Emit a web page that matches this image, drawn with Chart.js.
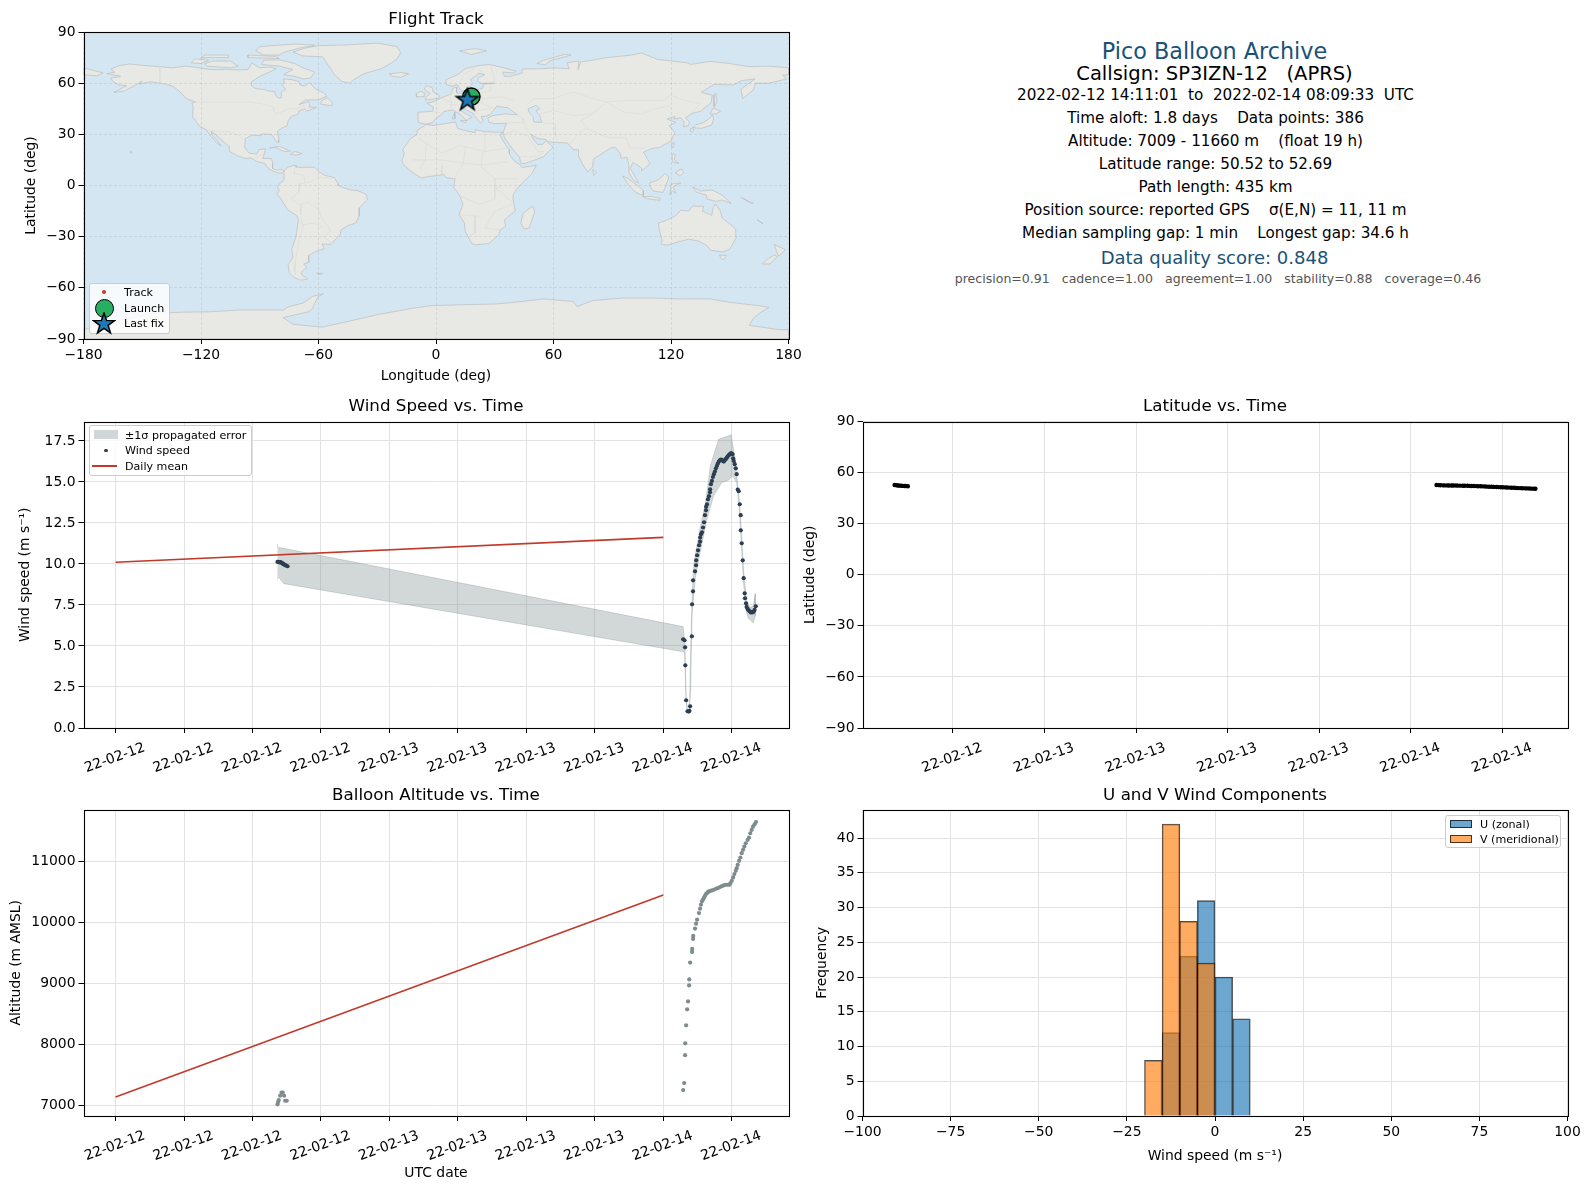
<!DOCTYPE html>
<html>
<head>
<meta charset="utf-8">
<title>Pico Balloon Archive</title>
<script src="https://cdn.jsdelivr.net/npm/chart.js@4/dist/chart.umd.js"></script>
<style>
  html, body { margin: 0; background: #fff; }
  body { position: relative; width: 1590px; height: 1189px; overflow: hidden; font-family: "DejaVu Sans", sans-serif; color: #000; }
  canvas { position: absolute; }
  .info { position: absolute; left: 1215.5px; transform: translate(-50%, -50%); white-space: pre; font-size: 15.2px; }
  .legend { position: absolute; background: rgba(255, 255, 255, 0.8); border: 1px solid #ccc; border-radius: 3px; box-sizing: border-box; font-size: 11.1px; z-index: 5; }
  .legend span, .legend i, .legend svg { position: absolute; display: block; }
  .legend span { white-space: pre; transform: translateY(-50%); }
</style>
</head>
<body>
<div class="info" style="top:50.8px;left:1214.5px;font-size:22.3px;color:#1a5276">Pico Balloon Archive</div>
<div class="info" style="top:73.1px;left:1214.5px;font-size:19.5px">Callsign: SP3IZN-12   (APRS)</div>
<div class="info" style="top:94.6px">2022-02-12 14:11:01  to  2022-02-14 08:09:33  UTC</div>
<div class="info" style="top:117.8px">Time aloft: 1.8 days    Data points: 386</div>
<div class="info" style="top:141px">Altitude: 7009 - 11660 m    (float 19 h)</div>
<div class="info" style="top:163.8px">Latitude range: 50.52 to 52.69</div>
<div class="info" style="top:186.8px">Path length: 435 km</div>
<div class="info" style="top:210.1px">Position source: reported GPS    σ(E,N) = 11, 11 m</div>
<div class="info" style="top:233.4px">Median sampling gap: 1 min    Longest gap: 34.6 h</div>
<div class="info" style="top:257.4px;left:1214.5px;font-size:18px;color:#1a5276">Data quality score: 0.848</div>
<div class="info" style="top:277.8px;left:1218px;font-size:12.55px;color:#555">precision=0.91   cadence=1.00   agreement=1.00   stability=0.88   coverage=0.46</div>

<div class="legend" style="left:89px;top:283px;width:81px;height:51px">
  <i style="left:12px;top:6px;width:4px;height:4px;border-radius:50%;background:#c0392b"></i>
  <span style="left:34px;top:8px">Track</span>
  <i style="left:5px;top:15px;width:17px;height:17px;border-radius:50%;background:#27ae60;border:1.5px solid #000"></i>
  <span style="left:34px;top:23.5px">Launch</span>
  <svg style="left:2px;top:28px" width="24" height="24" viewBox="-12 -12 24 24"><polygon points="0,-11 2.6,-3.6 10.5,-3.4 4.2,1.4 6.5,8.9 0,4.4 -6.5,8.9 -4.2,1.4 -10.5,-3.4 -2.6,-3.6" fill="#1f77b4" stroke="#000" stroke-width="1.5"/></svg>
  <span style="left:34px;top:38.5px">Last fix</span>
</div>
<div class="legend" style="left:89px;top:425px;width:163px;height:51px">
  <i style="left:4px;top:4px;width:24px;height:9px;background:#d0d7d9"></i>
  <span style="left:35px;top:8.5px">±1σ propagated error</span>
  <i style="left:14px;top:22.5px;width:3.5px;height:3.5px;border-radius:50%;background:#2c3e50"></i>
  <span style="left:35px;top:24px">Wind speed</span>
  <i style="left:2px;top:39px;width:25px;height:1.5px;background:#c0392b"></i>
  <span style="left:35px;top:39.5px">Daily mean</span>
</div>
<div class="legend" style="left:1445px;top:815px;width:116px;height:33px">
  <i style="left:4px;top:4px;width:22px;height:8px;box-sizing:border-box;background:rgba(31,119,180,.65);border:1px solid rgba(0,0,0,.7)"></i>
  <span style="left:34px;top:8px">U (zonal)</span>
  <i style="left:4px;top:19px;width:22px;height:8px;box-sizing:border-box;background:rgba(255,127,14,.65);border:1px solid rgba(0,0,0,.7)"></i>
  <span style="left:34px;top:23px">V (meridional)</span>
</div>

<canvas id="mapChart" width="820" height="389" style="left:0;top:0"></canvas>
<canvas id="windChart" width="820" height="405" style="left:0;top:385px"></canvas>
<canvas id="latChart" width="790" height="405" style="left:800px;top:385px"></canvas>
<canvas id="altChart" width="820" height="411" style="left:0;top:775px"></canvas>
<canvas id="histChart" width="790" height="394" style="left:800px;top:775px"></canvas>

<script>
// hours are counted from 2022-02-12 00:00 UTC
const windHours = [14.19, 14.28, 14.36, 14.45, 14.52, 14.6, 14.68, 14.76, 14.85, 14.95, 15.07,
  49.74, 49.86, 49.91, 49.93, 50.0, 50.12, 50.23, 50.29, 50.35, 50.5, 50.52, 50.6, 50.61, 50.78, 50.87, 50.88, 50.96,
  51.04, 51.13, 51.22, 51.23, 51.3, 51.39, 51.48, 51.57, 51.65, 51.74, 51.75, 51.83, 51.91, 52.0, 52.09, 52.1, 52.17,
  52.26, 52.35, 52.43, 52.52, 52.61, 52.7, 52.78, 52.87, 52.96, 53.04, 53.13, 53.22, 53.3, 53.39, 53.48, 53.57, 53.65,
  53.74, 53.83, 53.94, 54.06, 54.12, 54.17, 54.26, 54.35, 54.43, 54.52, 54.61, 54.7, 54.78, 54.79, 54.87, 54.96, 55.04,
  55.13, 55.16, 55.25, 55.3, 55.39, 55.48, 55.57, 55.65, 55.74, 55.83, 55.91, 56.0, 56.1];
const windSpeed = [10.12, 10.13, 10.1, 10.11, 10.08, 10.05, 10.0, 9.97, 9.93, 9.9, 9.86,
  5.41, 5.35, 4.92, 3.82, 1.69, 1.02, 1.0, 1.04, 1.32, 5.59, 7.54, 8.33, 9.0, 9.55, 9.92, 10.22, 10.53,
  10.83, 11.14, 11.36, 11.61, 11.81, 11.93, 12.22, 12.54, 12.97, 13.27, 13.48, 13.64, 13.94, 14.13, 14.37, 14.55, 14.86,
  15.06, 15.3, 15.47, 15.63, 15.83, 15.98, 16.12, 16.24, 16.32, 16.36, 16.34, 16.28, 16.24, 16.32, 16.4, 16.48, 16.56,
  16.63, 16.69, 16.75, 16.69, 16.44, 16.28, 16.08, 15.83, 15.47, 14.53, 14.43, 13.64, 12.97, 12.05, 11.26, 10.22, 9.13,
  8.21, 7.91, 7.6, 7.38, 7.26, 7.17, 7.11, 7.05, 7.05, 7.05, 7.09, 7.2, 7.42];

const bandUpperHours = [14.19, 14.25, 14.75, 49.74, 49.9, 50.0, 50.12, 50.29, 50.4, 50.52, 50.67, 51.25, 51.68, 52.12,
  52.84, 53.28, 53.94, 54.23, 54.43, 54.72, 55.04, 55.3, 55.59, 55.88, 56.06];
const bandUpper = [11.2, 11.0, 10.95, 6.18, 5.1, 1.9, 1.1, 1.15, 5.0, 8.0, 9.98, 12.32, 13.64, 15.98,
  17.6, 17.7, 17.87, 16.69, 15.47, 13.43, 9.57, 7.74, 7.34, 7.44, 8.19];
const bandLowerHours = [14.19, 14.25, 14.45, 14.75, 49.74, 49.86, 50.0, 50.12, 50.29, 50.4, 50.52, 50.81, 51.25, 51.83, 52.41,
  53.13, 53.71, 54.06, 54.43, 54.67, 54.87, 55.04, 55.25, 55.45, 55.88, 56.06];
const bandLower = [9.05, 9.2, 9.05, 8.8, 4.65, 4.6, 1.5, 0.95, 0.95, 2.5, 6.9, 9.17, 10.79, 12.72, 14.15,
  14.96, 15.1, 15.37, 14.96, 13.23, 10.79, 8.76, 7.13, 6.69, 6.4, 6.83];

const meanHours = [0, 48];
const meanWind = [10.1, 11.62];
const meanAltitude = [7133, 10453];

const altHours = [14.19, 14.25, 14.3, 14.42, 14.54, 14.65, 14.77, 14.86, 15.0,
  49.74, 49.83, 49.91, 49.92, 50.0, 50.09, 50.17, 50.26, 50.27, 50.35, 50.52, 50.53, 50.61, 50.62, 50.78, 50.87, 50.96,
  51.13, 51.22, 51.3, 51.39, 51.48, 51.57, 51.65, 51.74, 51.83, 51.91, 52.0, 52.09, 52.26, 52.43, 52.61, 52.78, 52.96,
  53.13, 53.3, 53.48, 53.65, 53.8, 53.88, 54.0, 54.12, 54.23, 54.35, 54.43, 54.52, 54.64, 54.75, 54.87, 54.99, 55.1,
  55.22, 55.39, 55.51, 55.62, 55.74, 55.86, 56.0, 56.12];
const altitude = [7012, 7050, 7082, 7153, 7203, 7203, 7153, 7071, 7071,
  7246, 7361, 7820, 8016, 8311, 8574, 8705, 8967, 9066, 9344, 9519, 9568, 9732, 9781, 9902, 9983, 10049,
  10158, 10229, 10295, 10350, 10382, 10410, 10442, 10470, 10486, 10503, 10513, 10519, 10530, 10541, 10557, 10568, 10585,
  10601, 10612, 10623, 10623, 10625, 10650, 10688, 10743, 10798, 10852, 10896, 10951, 11016, 11071, 11142, 11197, 11251,
  11306, 11361, 11399, 11470, 11524, 11579, 11617, 11655];
const altTicks = [7000, 8000, 9000, 10000, 11000];

const latHours = [14.18, 14.3, 14.41, 14.5, 14.62, 14.71, 14.83, 14.92, 15.05,
  49.68, 49.8, 49.93, 50.1, 50.22, 50.38, 50.5, 50.67, 50.78, 50.95, 51.07, 51.22, 51.4, 51.52, 51.7, 51.83, 51.96,
  52.12, 52.28, 52.4, 52.57, 52.7, 52.86, 53.0, 53.13, 53.3, 53.42, 53.6, 53.73, 53.88, 54.02, 54.18, 54.31, 54.47,
  54.6, 54.76, 54.9, 55.04, 55.2, 55.33, 55.5, 55.62, 55.78, 55.91, 56.05, 56.16];
const latitude = [52.69, 52.6, 52.45, 52.38, 52.3, 52.22, 52.15, 52.1, 52.02,
  52.69, 52.66, 52.6, 52.52, 52.5, 52.48, 52.46, 52.45, 52.42, 52.4, 52.38, 52.35, 52.33, 52.3, 52.27, 52.22, 52.18,
  52.12, 52.08, 52.02, 51.98, 51.93, 51.85, 51.78, 51.72, 51.66, 51.62, 51.55, 51.5, 51.42, 51.38, 51.32, 51.27, 51.2,
  51.15, 51.08, 51.0, 50.92, 50.87, 50.8, 50.76, 50.72, 50.66, 50.62, 50.58, 50.52];

const histLabels = [-17.5, -12.5, -7.5, -2.5, 2.5, 7.5];
const uCounts = [0, 12, 23, 31, 20, 14];
const vCounts = [8, 42, 28, 22, 0, 0];

const launchFix = [18.05, 52.1];
const lastFix = [16.0, 50.4];
const trackLon = [18.05, 17.6, 17.2, 16.9, 16.5, 16.0];
const trackLat = [52.1, 52.0, 51.7, 51.3, 50.9, 50.4];

// coastlines and borders, as [lon, lat]
const northAmerica = [[-168,65.6],[-164,66.5],[-166,68.3],[-162,70.2],[-156.5,71.3],[-150,70.5],[-141,69.7],[-135,69],[-128,70],[-124,69.5],[-115,68],[-108,68],[-101,67.8],[-96,68],[-94,71.8],[-90,69],[-85,69.5],[-81.5,68.5],[-87,65.5],[-90,64],[-94,61],[-94.5,58.8],[-92.5,57],[-88,56.3],[-85,55.3],[-82.3,55.1],[-82,53],[-80.5,51.3],[-79,51.5],[-79,54.7],[-76.8,56.5],[-78.3,58.7],[-77.5,60.5],[-78,62.4],[-74,62.2],[-70,61],[-69.5,59],[-67,58.3],[-64.5,60.3],[-61.5,56.5],[-57.5,54.5],[-55.7,52.5],[-60,50.2],[-66.5,50.2],[-70,47.5],[-65,49.2],[-64.5,47.5],[-65,46],[-61,45.8],[-66,43.6],[-67,45],[-70,43.7],[-70.5,41.7],[-74,40.5],[-75.5,38],[-76,35],[-78.5,33.8],[-81,31.5],[-80.2,27],[-80.4,25.2],[-81.8,26],[-82.8,28],[-84,30],[-89,30.2],[-89.5,29.2],[-94,29.5],[-97.3,27.5],[-97.7,22.5],[-95.5,19],[-91.5,18.5],[-90.5,21],[-87,21.5],[-88,17.5],[-88.5,15.9],[-84,15.8],[-83.3,12.5],[-83.5,10],[-81,8.9],[-79.5,9.5],[-77.4,8.7],[-78,7.5],[-80.2,7.3],[-83,8.3],[-85.7,10],[-87.5,13],[-91.5,14],[-94.5,16.2],[-97,15.8],[-101.5,17.5],[-105.5,20],[-105.5,22.8],[-109.3,26.5],[-112.5,30],[-114.7,31.6],[-114.5,30],[-109.6,23.2],[-112,25],[-115.7,30],[-117.2,32.7],[-120.5,34.5],[-122.5,37.5],[-124.3,40.3],[-124,46.2],[-124.7,48.4],[-122.7,49],[-127.5,51],[-130.5,54.7],[-134,58],[-139.5,59.8],[-146,60.8],[-151.5,59.5],[-150,61.2],[-154,58.5],[-159,55.5],[-164.5,54.6],[-158,58.5],[-162,59],[-165,61],[-166,63],[-161,64]];
const greenland = [[-73,78.2],[-67,80.5],[-60,82],[-45,82.5],[-30,83.5],[-20,81.5],[-18,78],[-20,74],[-24,71],[-28,68.5],[-37,65.5],[-42,62],[-44,60],[-48,61],[-52,65],[-53.5,68],[-55,70.5],[-58,75.5],[-68,76]];
const baffin = [[-80,73.7],[-72,71.5],[-68,69],[-62,66.5],[-64,63],[-68,62.5],[-72,64],[-78,65],[-73,68],[-80,70],[-89,71],[-88,73.5]];
const victoriaIsland = [[-117,70],[-105,69],[-101,70],[-105,73],[-114,73],[-118,71.5]];
const ellesmere = [[-88,76.5],[-80,76.5],[-78,78],[-70,80.5],[-62,82.3],[-72,83],[-90,81.5],[-92,79]];
const banksIsland = [[-125,72],[-120,71.5],[-116,73.5],[-123,74.3]];
const melville = [[-120,75],[-106,75],[-106,76.5],[-118,76.5]];
const devon = [[-96,75],[-80,74.5],[-82,75.7],[-96,76.5]];
const newfoundland = [[-59,47.7],[-53,46.8],[-53,48.5],[-55.5,51.5],[-58,50]];
const cuba = [[-85,22],[-80,23],[-74.3,20.2],[-77.5,19.9],[-82,22.5]];
const hispaniola = [[-74.3,18.5],[-72,20],[-68.5,18.7],[-71.5,17.8]];
const hawaii = [[-156,20.2],[-155,19.5],[-155.8,19]];
const southAmerica = [[-77.4,8.7],[-75.5,10.8],[-72,12],[-71.5,10.8],[-68,10.7],[-62,10.7],[-60,8.3],[-57,6],[-52,4.7],[-50,1],[-50,0],[-48,-1],[-44,-2.5],[-40,-3],[-35.5,-5.3],[-35,-8.5],[-39,-13],[-39.2,-18],[-41,-22],[-45,-23.5],[-48.5,-26],[-48.8,-28.5],[-52,-32.5],[-54,-34.5],[-58.2,-34.3],[-57,-37],[-62,-39],[-65,-41],[-65,-45],[-67.5,-46],[-66,-48],[-69,-51],[-68.5,-52.5],[-65.5,-54.8],[-69,-55.5],[-72.5,-54],[-75,-51],[-75.5,-46.5],[-73,-42],[-73.7,-37.5],[-71.5,-30],[-70.2,-20],[-71,-17.8],[-76,-14],[-79,-8],[-81.3,-5],[-80,-3],[-81,-1],[-80,1],[-78.7,2],[-77.3,4],[-77.5,7],[-78,7.5]];
const falklands = [[-61,-51.5],[-58,-51.5],[-59,-52.3]];
const eurasia = [[-9,37],[-9.3,43],[-1.7,43.5],[-1.3,46],[-4.7,48.4],[-1.5,49],[2,51],[4,52],[8,53.8],[8.5,57],[10.6,57.7],[10.5,54.3],[14,54],[19,54.4],[21,56],[24,57.2],[24,59.4],[30,60],[23,60],[21.3,61],[21.5,63],[25,65],[22,65.8],[17.5,62],[18.8,60],[16.5,57],[14.3,55.5],[12.8,55.5],[11,59],[8,58.2],[5.3,59.2],[5,62],[11,65],[15,68.5],[21,70.2],[27,71],[33,69.5],[41,67],[40,66],[34,66.5],[35,64],[38,64],[44,66],[44,68.3],[54,68.5],[60,69],[68,68.5],[67,72],[73,73],[72.5,68],[74,72.5],[80,73.5],[87,75],[100,76.5],[105,77.7],[113,74],[128,72],[130,71],[140,72.8],[150,71.5],[160,69.7],[170,70],[180,69],[180,65],[177,64.7],[179,62.5],[170,60],[163,60],[162,56],[156.7,51],[155.7,56.5],[163,62.5],[156,61.5],[152,59],[142,59.3],[135.5,54.7],[141,53],[140.5,48.5],[135,43.5],[130.7,42.3],[127.5,39.8],[129.4,37],[129,35.2],[126.3,34.5],[126.6,37.7],[125,39.7],[121.5,39],[122,40.5],[118,39],[122.5,37],[119,35],[122,31],[120,26],[114,22.3],[109.5,21.5],[106,19.5],[109.3,13],[107,10.4],[105,8.7],[105,10.3],[102,12.5],[100.5,13.5],[99.3,10],[103.5,1.4],[101,3],[98.3,8],[98.5,12],[97.5,16.5],[94.5,16],[94,19],[91.5,22.5],[89,21.8],[86.5,20],[80.3,15.5],[80,11],[77.5,8],[75,12],[73,17],[72.8,21],[70,21],[69,22.5],[67,25],[62,25.2],[57,25.7],[56.3,27],[52,27.5],[48.5,30],[50,26.7],[52,24],[54.5,24.2],[56.3,26.2],[59.8,22.5],[55,17],[52,15.6],[45,12.8],[43.3,13],[42.7,16.5],[39,21.5],[35,28],[34.3,31.3],[36,36.5],[30,36.3],[27,37],[26.5,39.5],[29,41],[35,42],[41.5,41.5],[38,44.5],[37,45.5],[31,46.5],[28,42],[26,40.7],[23,40.5],[24,38],[22.8,36.5],[19.5,41],[19,42.3],[13.7,45.5],[12.5,44],[16,41.7],[18.5,40],[16.5,39],[15.8,38],[12,42],[8.8,44.3],[4,43.4],[3,41.8],[0,39.5],[-2,36.7],[-5.5,36]];
const chukotka = [[-180,69],[-175,67.5],[-170,66],[-173,64.3],[-180,65]];
const africa = [[-5.5,35.8],[-1,35.2],[10,37.3],[11,33.5],[15,32.2],[20,31],[20,32.7],[25,31.6],[32,31.2],[34.3,31.3],[32.6,29.5],[35.5,24],[37.3,21],[37.5,18.5],[39.5,15],[43,12],[44,10.6],[51.2,11.8],[49,7],[42,-1],[39.5,-5],[39.3,-8],[40.5,-15],[35,-20],[35.5,-24],[32.8,-26],[32,-29],[27,-34],[20,-34.8],[18.3,-34],[15,-27],[14.5,-22],[11.8,-17],[13.8,-11],[12,-5.5],[9,-1],[9.7,4],[5.5,4.5],[4,6.4],[-4,5.2],[-7.5,4.4],[-13,8.5],[-16.8,12.5],[-17.3,14.7],[-16.2,19],[-17,21],[-13,27.7],[-9.8,29.8],[-9.5,32.5],[-6,35]];
const madagascar = [[49.4,-12],[50.4,-15.5],[47.5,-25],[45,-25.5],[43.3,-22],[44.5,-16.2]];
const britain = [[-5.5,50],[1.3,51.2],[1.7,52.7],[-1.5,55],[-2,57.5],[-5,58.6],[-6,56.5],[-3,54],[-5,52]];
const ireland = [[-10,52],[-6,52.2],[-6,54.5],[-8,55.2],[-10,54]];
const iceland = [[-24,65.5],[-18,66.3],[-14,65.5],[-18,63.5],[-22,64]];
const svalbard = [[12,79],[20,80.3],[26,79],[18,76.8]];
const novayaZemlya = [[51.5,71.5],[55,73.5],[66,77],[69,76.5],[58,73],[56,70.8]];
const sicily = [[12.5,38],[15.5,38.2],[15,36.8]];
const sardinia = [[8.3,39],[9.5,43],[9.7,39.2]];
const sriLanka = [[80,9.5],[82,7.5],[80.5,6]];
const honshu = [[130.9,34],[135.5,33.5],[140.8,35.5],[141.8,39.5],[141,41.4],[139.8,39.5],[136.7,37],[132.7,35.5]];
const kyushu = [[130,33.5],[131.8,33],[130.8,31.2],[129.8,32]];
const hokkaido = [[140,42],[141.5,45.5],[145.3,43.5],[143,42]];
const sakhalin = [[142,46],[143.5,49.3],[142.8,54.3],[142,53],[142,49]];
const taiwan = [[121,25.2],[121.8,24.8],[120.8,22],[120.2,23.2]];
const luzon = [[120.5,18.5],[122.2,18.3],[121.7,15],[124,13],[120.8,13.8]];
const mindanao = [[122,7.5],[125.5,9.8],[126.5,7.5],[124.5,5.7]];
const sumatra = [[95.3,5.6],[98,4.2],[104,-1],[106,-3],[105.8,-5.9],[102,-4],[98.5,0]];
const java = [[105.5,-6.5],[110.5,-6.5],[114.5,-7.6],[114.3,-8.7],[108,-7.8]];
const borneo = [[109,1.5],[113,3],[117,7],[119,5],[117.7,1],[116,-4],[111,-3.3],[109.3,-0.5]];
const sulawesi = [[119.5,-5.5],[120,0.8],[125,1.5],[121,-0.9],[122.5,-4.5],[120.5,-3]];
const newGuinea = [[131,-0.8],[135,-3.3],[141,-2.6],[146,-5.5],[150.7,-10.5],[146,-8.5],[143,-9.3],[138.5,-8],[138,-5.5],[133,-4]];
const australia = [[113.5,-22],[114,-26],[115.5,-32],[115,-34.3],[118,-35],[124,-33],[129,-31.5],[134,-32.5],[138,-35],[140.5,-38],[146.5,-39],[150,-37.3],[153.2,-31],[153,-25.5],[149.5,-22],[146,-19],[145.3,-15],[142.7,-10.8],[141.5,-13],[140.8,-17.5],[136,-15],[136.7,-12.2],[131,-12],[129,-15],[125,-14.5],[122,-18],[117,-20.7]];
const tasmania = [[144.8,-40.8],[148.3,-41],[147,-43.5],[145.5,-42.8]];
const newZealandNorth = [[172.7,-34.5],[178.4,-37.7],[175,-41.5],[174,-39]];
const newZealandSouth = [[172.7,-40.6],[174.2,-41.7],[170.5,-46],[166.5,-46],[169,-43.5]];
const newCaledonia = [[164,-20],[167,-22.3],[166,-22]];
const solomons = [[156,-7],[162,-10.5],[160,-10]];
const antarctica = [[-180,-84.5],[-165,-80],[-145,-75],[-130,-74.3],[-115,-74],[-100,-73],[-90,-73],[-78,-73],[-75,-71],[-68,-69],[-63,-65],[-57.5,-63.5],[-60,-65],[-62,-69],[-63,-72],[-65,-74],[-78,-77.5],[-73,-81.4],[-58,-83],[-46,-80],[-29,-75.5],[-12,-72],[-3,-70.5],[10,-70],[30,-69.5],[40,-68.5],[55,-66.5],[70,-68],[72,-71],[80,-67.5],[95,-66],[110,-66],[125,-66.5],[140,-66.5],[150,-68.5],[165,-70.5],[170,-71.5],[165,-75],[162,-78],[160,-82],[175,-84.5],[180,-84.5],[180,-90],[-180,-90]];
const landPolygons = [northAmerica, greenland, baffin, victoriaIsland, ellesmere, banksIsland, melville, devon, newfoundland, cuba, hispaniola, hawaii,
  southAmerica, falklands, eurasia, chukotka, africa, madagascar, britain, ireland, iceland, svalbard, novayaZemlya, sicily, sardinia, sriLanka,
  honshu, kyushu, hokkaido, sakhalin, taiwan, luzon, mindanao, sumatra, java, borneo, sulawesi, newGuinea, australia, tasmania,
  newZealandNorth, newZealandSouth, newCaledonia, solomons, antarctica];
const caspian = [[47,45],[51,47],[53,45],[51,44],[53,41],[54,37],[50,37.3],[49.5,40.5],[47.5,43]];
const borderLines = [
  [[-123,49],[-95,49],[-89,48],[-83,46],[-82.5,42],[-79,43],[-75,45],[-71,45],[-67.5,47],[-67,45]],
  [[-141,69.7],[-141,60],[-135,59]],
  [[-117,32.5],[-108,31.5],[-106,31.7],[-101,29.5],[-97.3,26]],
  [[-92,14.6],[-91,17.5],[-88.5,18]],
  [[-51.5,4],[-60,5],[-64,2],[-70,1],[-70,-4],[-74,-7.5],[-70,-11],[-65,-10],[-60,-14],[-58,-20],[-55,-24],[-54,-27],[-57.5,-30],[-53.5,-33.8]],
  [[-69,-18],[-68,-24],[-70,-33],[-72,-45],[-72,-52]],
  [[-69,-11],[-69,-17]],
  [[-72,11.5],[-72.5,7],[-67.5,6],[-67,1.5]],
  [[-68,-23],[-62,-22],[-57.5,-25]],
  [[-8.7,27.5],[3,19],[12,23.5],[25,20],[25,31.5]],
  [[-12,15],[3,15],[15,13],[24,12],[36.5,14]],
  [[25,20],[37,22]],
  [[-5,25],[-5.5,15],[-8,10],[-3,5]],
  [[3,12],[3,6.5]],
  [[15,23],[14,13],[9,4]],
  [[24,20],[23,11],[30,4],[34,4],[42,4]],
  [[30,4],[30,-8],[22,-11],[12,-6]],
  [[34,-1],[30,-1],[40,-10.5]],
  [[22,-18],[12,-17]],
  [[20,-18],[20,-28],[17,-29]],
  [[33,-26],[25,-25],[30,-15],[40,-10.5]],
  [[47,48],[50,51],[60,51],[70,55],[80,51],[87,49]],
  [[87,49],[98,50],[107,50],[116,50],[120,53],[127,50],[135,48],[131,43]],
  [[87,49],[96,43],[105,42],[112,45],[120,47]],
  [[74,38],[80,42],[87,49]],
  [[74,38],[78,33],[88,28],[97,28],[99,22],[107,22]],
  [[44.5,39],[46,33],[48.5,30]],
  [[53,37],[61,36],[61,30],[62,25]],
  [[53,42],[60,44],[70,41],[80,42]],
  [[68,24],[71,28],[75,33],[78,33]],
  [[35,30],[40,32],[47,29],[52,20],[55,20],[52,17],[43,17]],
  [[36,36.7],[44,37],[44.5,39],[41.5,41.5]],
  [[-1.8,43.4],[3,42.5]],
  [[2.5,51],[8,49],[7.5,44]],
  [[8,49],[7,53.5]],
  [[14,54],[15,51],[19,49.5],[24,48],[29,45.5]],
  [[24,48],[23,54],[28,56],[28,60]],
  [[22,48],[14,47],[7,47.5]],
  [[29,45.5],[22,44],[20,42]],
  [[40,50],[33,52],[24,51]],
  [[11.5,59],[14,65],[20,69]],
  [[28,70],[30,62],[28,60]],
  [[24,66],[21,69]],
];

const FONT = '"DejaVu Sans"';
Chart.defaults.font.family = FONT;
Chart.defaults.font.size = 13.9;
Chart.defaults.color = '#000';
Chart.defaults.animation = false;

const toXY = (xs, ys) => xs.map((x, i) => ({ x, y: ys[i] }));
const closed = (pairs) => pairs.concat([pairs[0]]).map((p) => ({ x: p[0], y: p[1] }));
const dateTick = (h) => `22-02-${12 + Math.floor(h / 24)}`;
const minusTick = (v) => String(v).replace('-', '\u2212');

// spines all round plus optional axes background
const framePlugin = {
  id: 'frame',
  beforeDraw(chart, args, opts) {
    if (!opts.background) return;
    const { left, top, width, height } = chart.chartArea;
    chart.ctx.fillStyle = opts.background;
    chart.ctx.fillRect(left, top, width, height);
  },
  afterDraw(chart) {
    const { left, top, right, bottom } = chart.chartArea;
    const ctx = chart.ctx;
    ctx.save();
    ctx.strokeStyle = '#000';
    ctx.lineWidth = 1.1;
    ctx.strokeRect(Math.round(left) + 0.5, Math.round(top) + 0.5, Math.round(right - left), Math.round(bottom - top));
    ctx.restore();
  },
};

const axisBase = (extra) => ({
  type: 'linear',
  offset: false,
  border: { display: false },
  grid: { offset: false, color: '#e2e2e2', lineWidth: 1, tickColor: '#000', tickLength: 5, tickWidth: 1 },
  ...extra,
});

// rect is the canvas box, axes the wanted plot box, both in page pixels
const panelOptions = (rect, axes, title, xAxis, yAxis, xLabel, yLabel, yLabelPad) => {
  const x = axisBase({
    ...xAxis,
    afterFit(s) { s.height = rect.bottom - axes.bottom; },
  });
  const y = axisBase({
    ...yAxis,
    afterFit(s) { s.width = axes.left - rect.left; },
  });
  x.ticks = { autoSkip: false, includeBounds: false, ...xAxis.ticks };
  y.ticks = { autoSkip: false, includeBounds: false, ...yAxis.ticks };
  if (xLabel) x.title = { display: true, text: xLabel, padding: { top: 4, bottom: 4 } };
  y.title = { display: true, text: yLabel, padding: { top: yLabelPad, bottom: 0 } };
  return {
    responsive: false,
    animation: false,
    layout: { padding: { right: rect.right - axes.right } },
    scales: { x, y },
    plugins: {
      legend: { display: false },
      tooltip: { enabled: false },
      title: {
        display: true,
        fullSize: false,
        text: title,
        font: { size: 16.7, weight: 'normal' },
        color: '#000',
        padding: { top: axes.top - rect.top - 20 - axes.titleGap, bottom: axes.titleGap },
      },
    },
  };
};

const timeAxis = (min, max) => ({
  min,
  max,
  ticks: {
    stepSize: 6,
    minRotation: 20,
    maxRotation: 20,
    labelOffset: 29,
    padding: 6.5,
    callback: dateTick,
  },
});

const lineSet = (xs, ys, color, order) => ({
  data: toXY(xs, ys),
  showLine: true,
  borderColor: color,
  borderWidth: 1.6,
  pointRadius: 0,
  order,
});

const dotSet = (xs, ys, color, order, radius) => ({
  data: toXY(xs, ys),
  backgroundColor: color,
  borderWidth: 0,
  pointRadius: radius,
  order,
});

const starMarker = () => {
  const c = document.createElement('canvas');
  c.width = 28;
  c.height = 28;
  const ctx = c.getContext('2d');
  ctx.translate(14, 14.5);
  ctx.beginPath();
  for (let i = 0; i < 10; i += 1) {
    const r = i % 2 ? 4.5 : 11.5;
    const a = -Math.PI / 2 + (i * Math.PI) / 5;
    ctx.lineTo(r * Math.cos(a), r * Math.sin(a));
  }
  ctx.closePath();
  ctx.fillStyle = '#1f77b4';
  ctx.fill();
  ctx.lineWidth = 1.5;
  ctx.strokeStyle = '#000';
  ctx.stroke();
  return c;
};

// Flight track map
const mapRect = { left: 0, top: 0, right: 820, bottom: 389 };
const mapAxes = { left: 83.5, top: 32, right: 788.5, bottom: 339, titleGap: 2 };
const mapOptions = panelOptions(mapRect, mapAxes, 'Flight Track',
  { min: -180, max: 180, ticks: { stepSize: 60, callback: minusTick } },
  { min: -90, max: 90, ticks: { stepSize: 30, callback: minusTick } },
  'Longitude (deg)', 'Latitude (deg)', 23);
[mapOptions.scales.x, mapOptions.scales.y].forEach((s) => {
  s.grid = { ...s.grid, z: 1, color: 'rgba(120,120,120,0.2)', lineWidth: 0.8 };
  s.border = { display: false, dash: [3, 2] };
});
mapOptions.plugins.frame = { background: '#d4e6f1' };
new Chart('mapChart', {
  type: 'scatter',
  data: {
    datasets: [
      ...landPolygons.map((poly) => ({
        data: closed(poly),
        showLine: true,
        fill: 'shape',
        backgroundColor: '#e8e8e4',
        borderColor: '#bcbfc0',
        borderWidth: 0.7,
        pointRadius: 0,
        order: 6,
      })),
      ...borderLines.map((line) => ({
        data: line.map((p) => ({ x: p[0], y: p[1] })),
        showLine: true,
        borderColor: '#dcdcd8',
        borderWidth: 0.7,
        pointRadius: 0,
        order: 5,
      })),
      {
        data: closed(caspian),
        showLine: true,
        fill: 'shape',
        backgroundColor: '#d4e6f1',
        borderColor: '#bcbfc0',
        borderWidth: 0.7,
        pointRadius: 0,
        order: 4,
      },
      dotSet(trackLon, trackLat, '#c0392b', 3, 1.8),
      {
        data: [{ x: launchFix[0], y: launchFix[1] }],
        backgroundColor: '#27ae60',
        borderColor: '#000',
        borderWidth: 1.5,
        pointRadius: 8.6,
        order: 2,
      },
      {
        data: [{ x: lastFix[0], y: lastFix[1] }],
        pointStyle: starMarker(),
        order: 1,
      },
    ],
  },
  options: mapOptions,
  plugins: [framePlugin],
});

// Wind speed vs. time
const windRect = { left: 0, top: 385, right: 820, bottom: 790 };
const rowTwoAxes = { left: 83.5, top: 421.5, right: 788.5, bottom: 728, titleGap: 5 };
new Chart('windChart', {
  type: 'scatter',
  data: {
    datasets: [
      {
        data: toXY(bandUpperHours, bandUpper).concat(toXY(bandLowerHours, bandLower).reverse()),
        showLine: true,
        fill: 'shape',
        backgroundColor: 'rgba(127,140,141,0.35)',
        borderColor: 'rgba(127,140,141,0.35)',
        borderWidth: 0.8,
        pointRadius: 0,
        order: 3,
      },
      dotSet(windHours, windSpeed, '#2c3e50', 1, 2.1),
      lineSet(meanHours, meanWind, '#c0392b', 2),
    ],
  },
  options: panelOptions(windRect, rowTwoAxes, 'Wind Speed vs. Time', timeAxis(-2.81, 58.97),
    { min: 0, max: 18.68, ticks: { stepSize: 2.5, callback: (v) => v.toFixed(1) } },
    null, 'Wind speed (m s\u207b\u00b9)', 17),
  plugins: [framePlugin],
});

// Latitude vs. time
const latRect = { left: 800, top: 385, right: 1590, bottom: 790 };
const latAxes = { left: 862.5, top: 421.5, right: 1567.5, bottom: 728, titleGap: 5 };
new Chart('latChart', {
  type: 'scatter',
  data: { datasets: [dotSet(latHours, latitude, '#000', 1, 2.2)] },
  options: panelOptions(latRect, latAxes, 'Latitude vs. Time', timeAxis(12.08, 58.26),
    { min: -90, max: 90, ticks: { stepSize: 30, callback: minusTick } },
    null, 'Latitude (deg)', 2),
  plugins: [framePlugin],
});

// Balloon altitude vs. time
const altRect = { left: 0, top: 775, right: 820, bottom: 1186 };
const altAxes = { left: 83.5, top: 809.5, right: 788.5, bottom: 1116, titleGap: 4 };
new Chart('altChart', {
  type: 'scatter',
  data: {
    datasets: [
      dotSet(altHours, altitude, '#7f8c8d', 2, 2.1),
      lineSet(meanHours, meanAltitude, '#c0392b', 1),
    ],
  },
  options: panelOptions(altRect, altAxes, 'Balloon Altitude vs. Time', timeAxis(-2.81, 58.97),
    {
      min: 6820,
      max: 11860,
      ticks: { callback: (v) => String(v) },
      afterBuildTicks(s) { s.ticks = altTicks.map((value) => ({ value })); },
    },
    'UTC date', 'Altitude (m AMSL)', 8),
  plugins: [framePlugin],
});

// U and V histogram
const histRect = { left: 800, top: 775, right: 1590, bottom: 1169 };
const histAxes = { left: 862.5, top: 809.5, right: 1567.5, bottom: 1116, titleGap: 4 };
const histOptions = panelOptions(histRect, histAxes, 'U and V Wind Components',
  { min: -100, max: 100, ticks: { stepSize: 25, callback: minusTick } },
  { min: 0, max: 44.1, ticks: { stepSize: 5 } },
  'Wind speed (m s\u207b\u00b9)', 'Frequency', 14);
new Chart('histChart', {
  type: 'bar',
  data: {
    datasets: [
      {
        data: toXY(histLabels, uCounts).filter((d) => d.y > 0),
        backgroundColor: 'rgba(31,119,180,0.65)',
        borderColor: 'rgba(0,0,0,0.7)',
        borderWidth: 1,
        grouped: false,
        barPercentage: 1,
        categoryPercentage: 1,
        order: 2,
      },
      {
        data: toXY(histLabels, vCounts).filter((d) => d.y > 0),
        backgroundColor: 'rgba(255,127,14,0.65)',
        borderColor: 'rgba(0,0,0,0.7)',
        borderWidth: 1,
        grouped: false,
        barPercentage: 1,
        categoryPercentage: 1,
        order: 1,
      },
    ],
  },
  options: histOptions,
  plugins: [framePlugin],
});
</script>
</body>
</html>
